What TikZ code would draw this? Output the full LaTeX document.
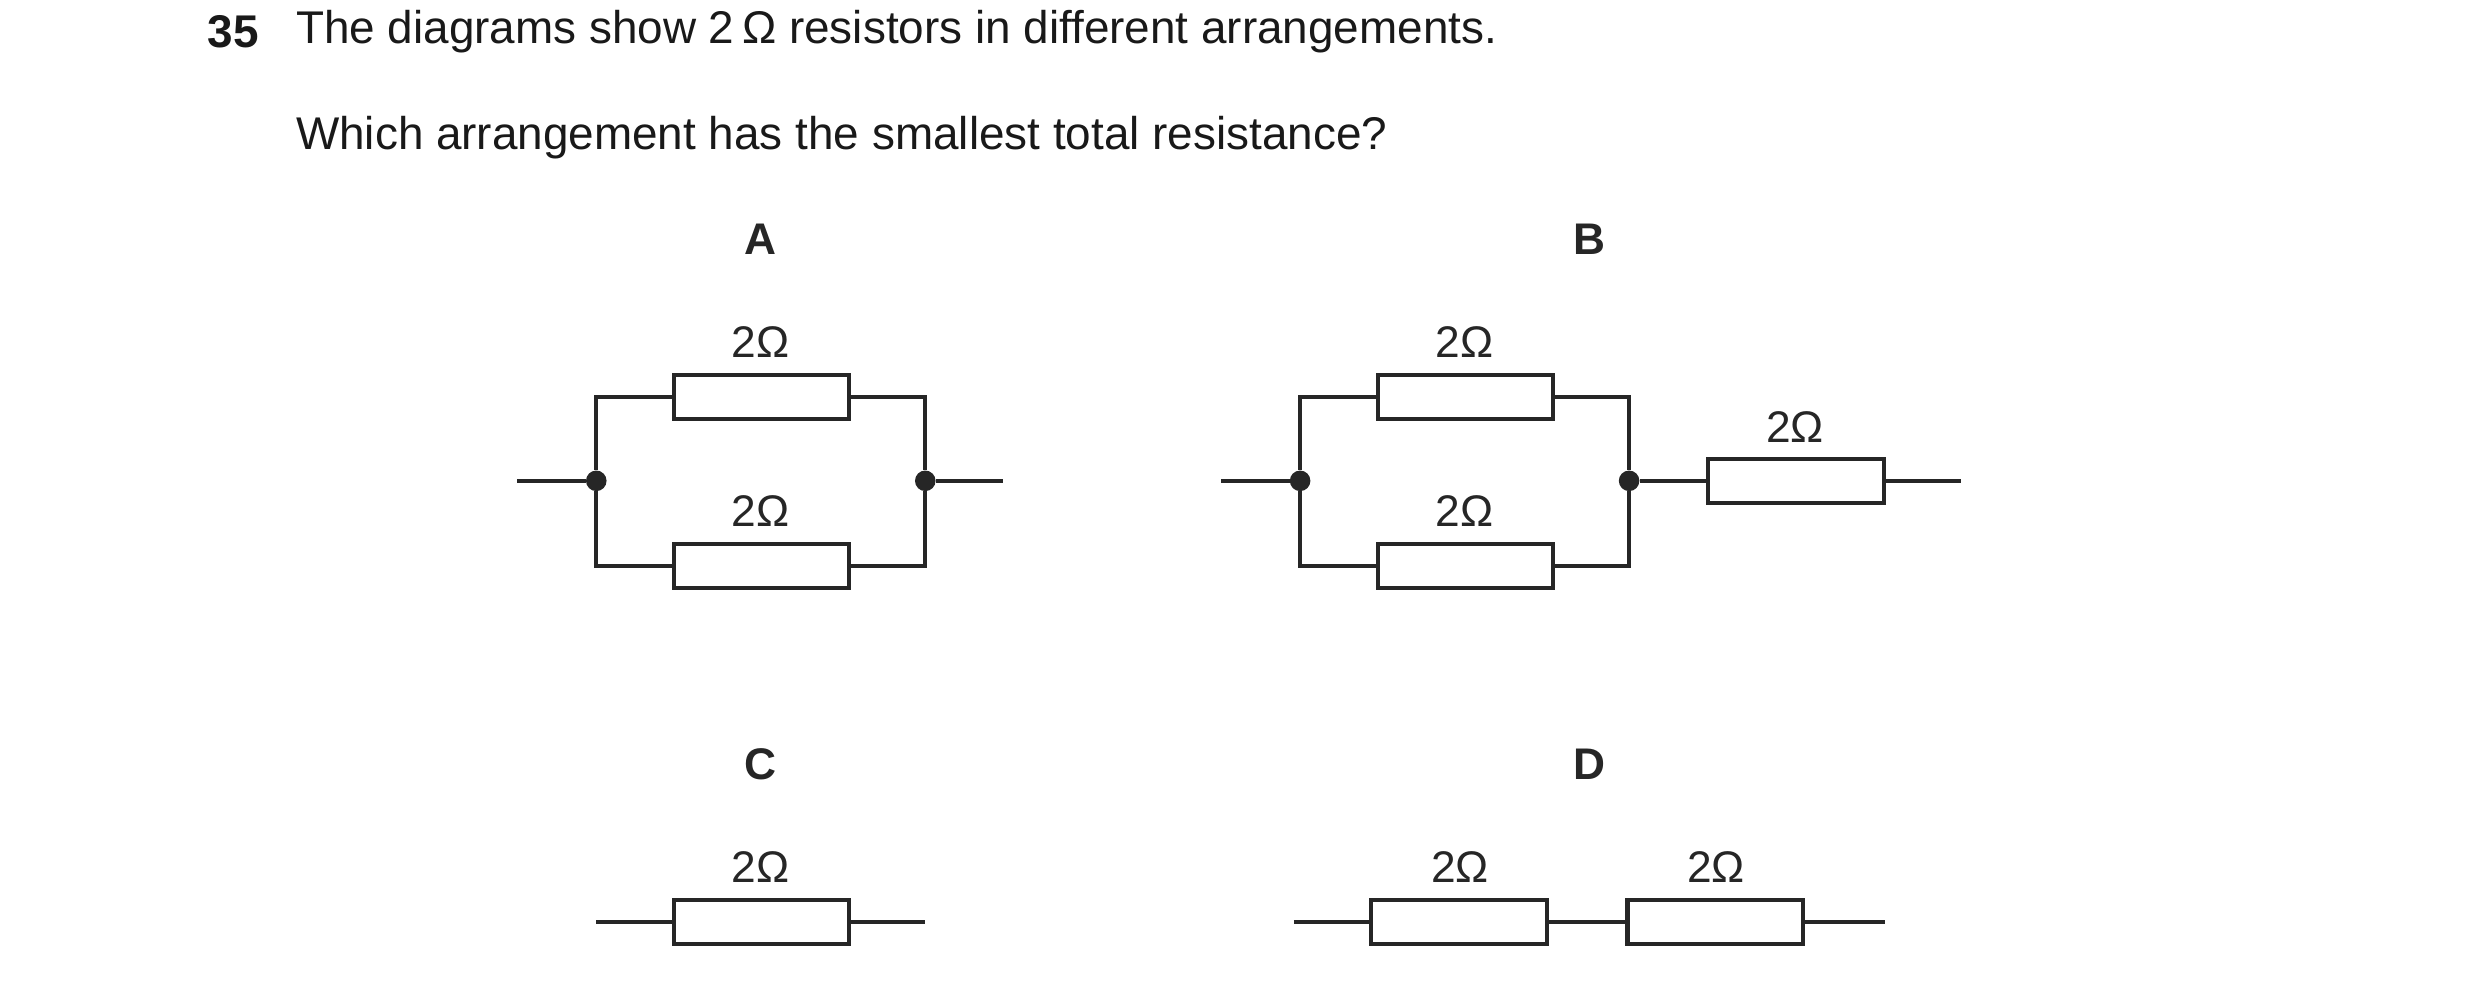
\documentclass[tikz,border=0pt]{standalone}
\usepackage{fontspec}
\setmainfont{Liberation Sans}
\begin{document}
\begin{tikzpicture}[x=1pt,y=-1pt,
  w/.style={line width=2.6pt,color=black!85},
  res/.style={draw=black!85,line width=2.6pt,minimum width=111pt,minimum height=28pt,inner sep=0pt},
  lab/.style={font=\fontsize{28}{30}\selectfont,text=black!85},
  ttl/.style={font=\fontsize{28}{30}\selectfont\bfseries,text=black!85},
  txt/.style={font=\fontsize{29}{32}\selectfont,text=black!90,anchor=west,inner sep=0pt},
  dot/.style={circle,fill=black!85,inner sep=0pt,minimum size=13pt}]
\useasboundingbox (0,0) rectangle (1568,623);
\node[txt,font=\fontsize{29}{32}\selectfont\bfseries] (q) at (131,20) {35};
\node[txt] (t1) at (187,20) {The diagrams show 2\,Ω resistors in different arrangements.};
\node[txt] (t2) at (187,87) {Which arrangement has the smallest total resistance?};
\node[ttl] (la) at (481,151) {A};
\node[ttl] (lb) at (1005,151) {B};
\node[ttl] (lc) at (481,483) {C};
\node[ttl] (ld) at (1005,483) {D};
% A
\node[res] (a1) at (481.5,251) {};
\node[res] (a2) at (481.5,358) {};
\node[dot] (ad1) at (377,304) {};
\node[dot] (ad2) at (585,304) {};
\coordinate (aL) at (327,304); \coordinate (aR) at (634,304);
\draw[w] (aL) -- (ad1); \draw[w] (ad2) -- (aR);
\draw[w] (ad1) |- (a1.west); \draw[w] (ad1) |- (a2.west);
\draw[w] (ad2) |- (a1.east); \draw[w] (ad2) |- (a2.east);
\node[lab] (al1) at (481,216) {2Ω};
\node[lab] (al2) at (481,323) {2Ω};
% B
\node[res] (b1) at (926.5,251) {};
\node[res] (b2) at (926.5,358) {};
\node[res] (b3) at (1135.5,304) {};
\node[dot] (bd1) at (822,304) {};
\node[dot] (bd2) at (1030,304) {};
\coordinate (bL) at (772,304); \coordinate (bR) at (1240,304);
\draw[w] (bL) -- (bd1); \draw[w] (bd2) -- (b3.west); \draw[w] (b3.east) -- (bR);
\draw[w] (bd1) |- (b1.west); \draw[w] (bd1) |- (b2.west);
\draw[w] (bd2) |- (b1.east); \draw[w] (bd2) |- (b2.east);
\node[lab] (bl1) at (926,216) {2Ω};
\node[lab] (bl2) at (926,323) {2Ω};
\node[lab] (bl3) at (1135,270) {2Ω};
% C
\node[res] (c1) at (481.5,583) {};
\coordinate (cL) at (377,583); \coordinate (cR) at (585,583);
\draw[w] (cL) -- (c1.west); \draw[w] (c1.east) -- (cR);
\node[lab] (cl1) at (481,548) {2Ω};
% D
\node[res] (d1) at (922.5,583) {};
\node[res] (d2) at (1084.5,583) {};
\coordinate (dL) at (818,583); \coordinate (dR) at (1192,583);
\draw[w] (dL) -- (d1.west); \draw[w] (d1.east) -- (d2.west); \draw[w] (d2.east) -- (dR);
\node[lab] (dl1) at (923,548) {2Ω};
\node[lab] (dl2) at (1085,548) {2Ω};
\end{tikzpicture}
\end{document}
